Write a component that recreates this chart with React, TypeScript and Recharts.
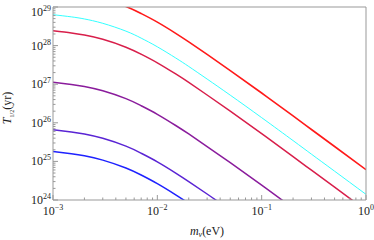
import React from 'react';
import { LineChart, Line, XAxis, YAxis } from 'recharts';

// neutrino mass grid (eV)
const masses = [0.001, 0.0015, 0.002, 0.003, 0.005, 0.007, 0.01, 0.015, 0.02, 0.03, 0.05, 0.1, 0.2, 0.3, 0.5, 1];

// half-life estimates (yr)
const redT = [2.75e29, 2.42e29, 2.13e29, 1.65e29, 1.03e29, 6.78e28, 4.06e28, 2.08e28, 1.25e28, 5.94e27, 2.26e27, 5.92e26, 1.51e26, 6.7e25, 2.43e25, 6.1e24];
const cyanT = [6.32e28, 5.55e28, 4.9e28, 3.78e28, 2.37e28, 1.56e28, 9.31e27, 4.78e27, 2.88e27, 1.36e27, 5.2e26, 1.36e26, 3.46e25, 1.54e25, 5.58e24, 1.4e24];
const crimsonT = [2.43e28, 2.13e28, 1.88e28, 1.46e28, 9.1e27, 5.98e27, 3.58e27, 1.84e27, 1.11e27, 5.25e26, 2.0e26, 5.22e25, 1.33e25, 5.92e24, 2.15e24, 5.38e23];
const purpleT = [1.13e27, 9.89e26, 8.73e26, 6.75e26, 4.22e26, 2.77e26, 1.66e26, 8.51e25, 5.13e25, 2.43e25, 9.27e24, 2.42e24, 6.17e23, 2.74e23, 9.95e22, 2.49e22];
const indigoT = [6.62e25, 5.81e25, 5.13e25, 3.96e25, 2.48e25, 1.63e25, 9.75e24, 5.0e24, 3.01e24, 1.43e24, 5.45e23, 1.42e23, 3.62e22, 1.61e22, 5.85e21, 1.47e21];
const blueT = [1.8e25, 1.58e25, 1.4e25, 1.08e25, 6.75e24, 4.44e24, 2.65e24, 1.36e24, 8.2e23, 3.89e23, 1.48e23, 3.87e22, 9.86e21, 4.39e21, 1.59e21, 3.99e20];

const xTicks = [
  0.001, 0.002, 0.003, 0.004, 0.005, 0.006, 0.007, 0.008, 0.009,
  0.01, 0.02, 0.03, 0.04, 0.05, 0.06, 0.07, 0.08, 0.09,
  0.1, 0.2, 0.3, 0.4, 0.5, 0.6, 0.7, 0.8, 0.9, 1,
];
const yTicks = [
  1e24, 2e24, 3e24, 4e24, 5e24, 6e24, 7e24, 8e24, 9e24,
  1e25, 2e25, 3e25, 4e25, 5e25, 6e25, 7e25, 8e25, 9e25,
  1e26, 2e26, 3e26, 4e26, 5e26, 6e26, 7e26, 8e26, 9e26,
  1e27, 2e27, 3e27, 4e27, 5e27, 6e27, 7e27, 8e27, 9e27,
  1e28, 2e28, 3e28, 4e28, 5e28, 6e28, 7e28, 8e28, 9e28, 1e29,
];

const series = [
  { key: 'red', values: redT, color: '#ff1a1a', width: 1.6 },
  { key: 'cyan', values: cyanT, color: '#33ffff', width: 1 },
  { key: 'crimson', values: crimsonT, color: '#d81e4a', width: 1.5 },
  { key: 'purple', values: purpleT, color: '#8a1c9c', width: 1.5 },
  { key: 'indigo', values: indigoT, color: '#5a24d4', width: 1.5 },
  { key: 'blue', values: blueT, color: '#1e22ff', width: 1.5 },
];

const data = masses.map((m, i) => {
  const row: Record<string, number> = { m };
  series.forEach(s => { row[s.key] = s.values[i]; });
  return row;
});

const FRAME = '#999';
const FONT = '"Liberation Serif", "DejaVu Serif", serif';

const expOf = (v: number) => {
  const l = Math.log10(v);
  const e = Math.round(l);
  return { e, major: Math.abs(l - e) < 1e-6 };
};

const XTick = (props: any) => {
  const { x, y, payload } = props;
  const { e, major } = expOf(payload.value);
  return (
    <g>
      <line x1={x} x2={x} y1={y} y2={y - (major ? 5 : 2.5)} stroke={FRAME} />
      {major && (
        <text x={x} y={y + 15} textAnchor="middle" fontFamily={FONT} fontSize={12} fill="#222">
          10<tspan dy={-5} fontSize={8}>{e < 0 ? '\u2212' + -e : e}</tspan>
        </text>
      )}
    </g>
  );
};

const YTick = (props: any) => {
  const { x, y, payload } = props;
  const { e, major } = expOf(payload.value);
  // the top label sits a little lower so it stays inside the picture
  const ly = e === 29 ? y + 5 : y;
  return (
    <g>
      <line x1={x} x2={x + (major ? 5 : 2.5)} y1={y} y2={y} stroke={FRAME} />
      {major && (
        <text x={x - 10} y={ly + 4} textAnchor="end" fontFamily={FONT} fontSize={12} fill="#222">
          10
        </text>
      )}
      {major && (
        <text x={x - 10} y={ly - 1} textAnchor="start" fontFamily={FONT} fontSize={8} fill="#222">
          {e}
        </text>
      )}
    </g>
  );
};

export default function App() {
  return (
    <div style={{ position: 'absolute', left: 0, top: 0, width: 374, height: 240, background: '#fff' }}>
      <LineChart width={374} height={240} data={data} margin={{ top: 0, right: 0, left: 0, bottom: 0 }}>
        <XAxis
          dataKey="m"
          type="number"
          scale="log"
          domain={[0.001, 1]}
          ticks={xTicks}
          interval={0}
          allowDataOverflow
          height={40}
          tickSize={0}
          tickMargin={0}
          tick={<XTick />}
          axisLine={{ stroke: FRAME }}
        />
        <XAxis
          xAxisId="top"
          dataKey="m"
          type="number"
          scale="log"
          domain={[0.001, 1]}
          orientation="top"
          allowDataOverflow
          height={7}
          tick={false}
          tickLine={false}
          axisLine={{ stroke: FRAME }}
        />
        <YAxis
          type="number"
          scale="log"
          domain={[1e24, 1e29]}
          ticks={yTicks}
          interval={0}
          allowDataOverflow
          width={53}
          tickSize={0}
          tickMargin={0}
          tick={<YTick />}
          axisLine={{ stroke: FRAME }}
        />
        <YAxis
          yAxisId="right"
          type="number"
          scale="log"
          domain={[1e24, 1e29]}
          orientation="right"
          allowDataOverflow
          width={8}
          tick={false}
          tickLine={false}
          axisLine={{ stroke: FRAME }}
        />
        {series.map(s => (
          <Line
            key={s.key}
            dataKey={s.key}
            type="natural"
            stroke={s.color}
            strokeWidth={s.width}
            dot={false}
            isAnimationActive={false}
          />
        ))}
        <text x={11} y={108} transform="rotate(-90 11 108)" textAnchor="middle" fontFamily={FONT} fontSize={12} fill="#222">
          <tspan fontStyle="italic">T</tspan>
          <tspan dy={3} fontSize={6}>1/2</tspan>
          <tspan dy={-3}>(yr)</tspan>
        </text>
        <text x={207} y={235} textAnchor="middle" fontFamily={FONT} fontSize={12} fill="#222">
          <tspan fontStyle="italic">m</tspan>
          <tspan dy={2} fontSize={8} fontStyle="italic">ν</tspan>
          <tspan dy={-2}>(eV)</tspan>
        </text>
      </LineChart>
    </div>
  );
}
